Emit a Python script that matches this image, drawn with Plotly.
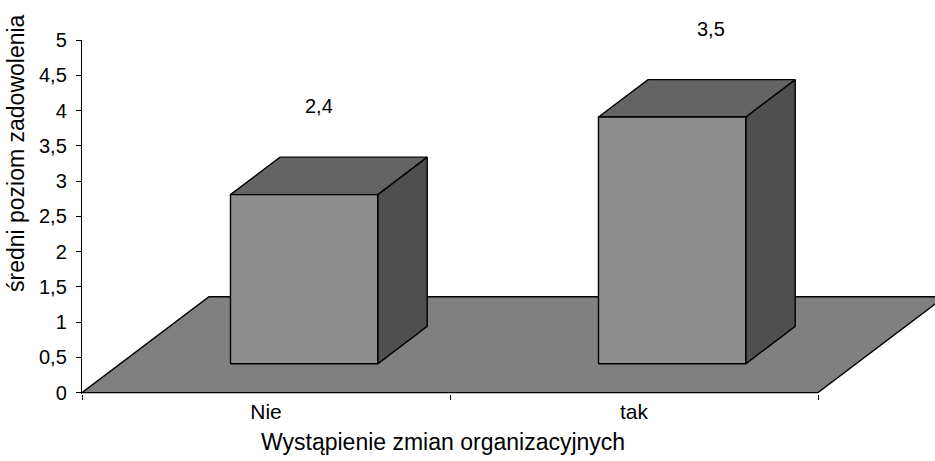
import plotly.graph_objects as go

# ---- data ----
categories = ["Nie", "tak"]
values = [2.4, 3.5]
value_labels = ["2,4", "3,5"]
y_tick_vals = [0, 0.5, 1, 1.5, 2, 2.5, 3, 3.5, 4, 4.5, 5]
y_tick_text = ["0", "0,5", "1", "1,5", "2", "2,5", "3", "3,5", "4", "4,5", "5"]
x_title = "Wystąpienie zmian organizacyjnych"
y_title = "średni poziom zadowolenia"

# ---- 3D look (style constants) ----
DX, DY = 0.345, 1.36        # floor depth vector in data units
F1, BD = 0.30, 0.39         # bar front depth fraction, bar depth fraction
HW = 0.2                    # bar half width (category units)
FLOOR_C = "#808080"
FRONT_C = "#8e8e8e"
TOP_C = "#646464"
SIDE_C = "#4f4f4f"
EDGE = dict(color="black", width=1.4)
FONT = "Liberation Sans, Arial, sans-serif"

n = len(categories)
fig = go.Figure()


def poly(xs, ys, color):
    fig.add_trace(go.Scatter(
        x=xs + [xs[0]], y=ys + [ys[0]], mode="lines", fill="toself",
        fillcolor=color, line=EDGE, hoverinfo="skip", showlegend=False))


# floor
poly([0, n, n + DX, DX], [0, 0, DY, DY], FLOOR_C)

# bars
for i, v in enumerate(values):
    c = i + 0.5
    x0 = c - HW + F1 * DX
    x1 = c + HW + F1 * DX
    y0 = F1 * DY
    y1 = y0 + v
    bx, by = BD * DX, BD * DY
    poly([x1, x1, x1 + bx, x1 + bx], [y0, y1, y1 + by, y0 + by], SIDE_C)
    poly([x0, x1, x1 + bx, x0 + bx], [y1, y1, y1 + by, y1 + by], TOP_C)
    poly([x0, x1, x1, x0], [y0, y0, y1, y1], FRONT_C)

annotations = []
for i, (v, t) in enumerate(zip(values, value_labels)):
    annotations.append(dict(
        x=i + 0.5 + 0.06 * v, y=v, xref="x", yref="y", text=t, yshift=117,
        showarrow=False, font=dict(family=FONT, size=20, color="black")))

annotations.append(dict(
    x=0.98, y=-0.135, xref="x", yref="paper", text=x_title, showarrow=False,
    xanchor="center", yanchor="middle",
    font=dict(family=FONT, size=23, color="black")))
annotations.append(dict(
    x=-0.0765, y=0.68, xref="paper", yref="paper", text=y_title,
    showarrow=False, textangle=-90, xanchor="center", yanchor="middle",
    font=dict(family=FONT, size=23, color="black")))

fig.update_layout(
    width=935, height=461,
    margin=dict(l=82, r=0, t=40, b=67),
    plot_bgcolor="white", paper_bgcolor="white",
    showlegend=False,
    annotations=annotations,
    xaxis=dict(
        range=[0, 853 / 368], showgrid=False, zeroline=False, showline=False,
        tickmode="array", tickvals=[i + 0.5 for i in range(n)],
        ticktext=categories, ticks="", ticklabelstandoff=3,
        tickfont=dict(family=FONT, size=21, color="black"),
        minor=dict(tickmode="array", tickvals=list(range(n + 1)),
                   ticks="outside", ticklen=5, tickcolor="black", tickwidth=1),
        fixedrange=True,
    ),
    yaxis=dict(
        range=[-0.02, 5], showgrid=False, zeroline=False, showline=True,
        linecolor="black", linewidth=1.4,
        tickmode="array", tickvals=y_tick_vals, ticktext=y_tick_text,
        ticks="outside", ticklen=5, tickcolor="black", tickwidth=1,
        ticklabelstandoff=5,
        tickfont=dict(family=FONT, size=20, color="black"),
        fixedrange=True,
    ),
)

fig.write_html("out.html", config={"displayModeBar": False},
               post_script="document.body.style.margin='0';")
